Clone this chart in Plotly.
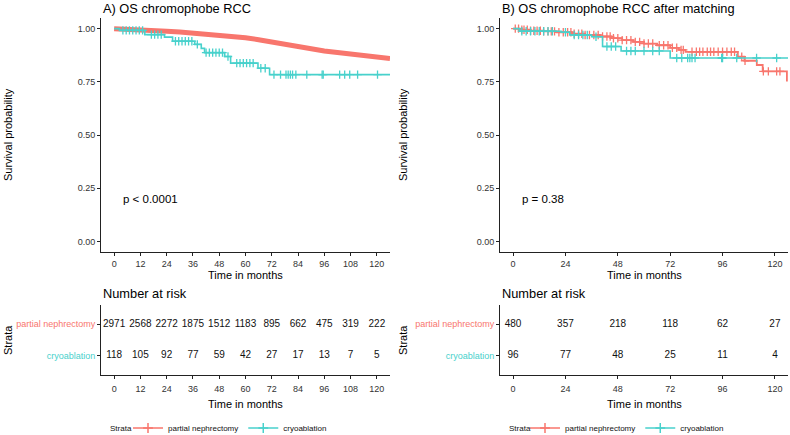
import numpy as np
import plotly.graph_objects as go

# ---- data ------------------------------------------------------------------
STRATA = ["partial nephrectomy", "cryoablation"]
RED = "#F8766D"
CYAN = "#48D1CC"

# panel A: survival curves
a_pn_t = [0, 6, 12, 18, 24, 30, 36, 42, 48, 54, 60, 66, 72, 78, 84, 90, 96,
          102, 108, 114, 120, 126]
a_pn_s = [1.0, .998, .996, .992, .988, .984, .979, .974, .968, .963, .957,
          .948, .937, .925, .915, .905, .895, .888, .881, .875, .868, .860]
a_cr_t = [0, 2.5, 14, 23, 26.7, 36.8, 39.8, 41.3, 50.5, 53.2, 65.7, 71, 126]
a_cr_s = [1.0, .992, .972, .96, .941, .926, .907, .887, .869, .838, .814,
          .784, .784]
a_cr_cens = [4, 5.5, 7, 8.5, 10, 11.5, 13, 17, 18.5, 20, 21.5, 28, 29.5, 31,
             32.5, 34, 35.5, 38, 42, 43.5, 45, 46.5, 48, 49.5, 52, 56, 57.5,
             59, 60.5, 62, 63.5, 67, 69, 73, 76, 78.5, 79.5, 80.5, 81.5, 83,
             88, 95, 95.5, 103, 105.3, 107.6, 111.2, 120.3]

# panel B: survival curves after matching
b_pn_t = [0, 3, 8, 14, 20, 27, 33, 40, 45, 50, 55, 60, 66, 72, 76, 79, 103,
          106, 111.7, 114.4, 125.5]
b_pn_s = [1.0, .995, .99, .987, .983, .976, .97, .963, .955, .946, .938, .930,
          .922, .910, .900, .891, .868, .849, .829, .799, .752]
b_pn_cens = [1, 2.5, 4, 5, 6.5, 8, 9.5, 11, 12.5, 14, 16, 17.5, 19, 21, 23,
             25, 26.5, 28, 30, 31.5, 33, 35, 37, 39, 41, 43, 44.5, 46, 48, 50,
             52, 54, 56, 58, 60, 62, 64, 67, 69, 71, 73, 75, 77, 78, 82, 84,
             85.5, 87, 89, 90.5, 92, 94, 96, 98, 100, 101.5, 104.8, 106.3,
             114.7, 117, 120.8, 122.3]
b_cr_t = [0, 3, 22, 26, 36, 41, 49.5, 72, 126]
b_cr_s = [1.0, .988, .983, .970, .962, .916, .895, .862, .862]
b_cr_cens = [4, 6, 8, 10, 12, 14, 16, 18, 24, 28, 30, 32, 34, 38, 43, 45, 47,
             52, 54, 56, 60, 64, 67, 75, 77.3, 80, 81, 82, 83.4, 95.6, 96,
             102.5, 111.6, 120.8]

# number at risk tables
months_a = [0, 12, 24, 36, 48, 60, 72, 84, 96, 108, 120]
risk_a_pn = [2971, 2568, 2272, 1875, 1512, 1183, 895, 662, 475, 319, 222]
risk_a_cr = [118, 105, 92, 77, 59, 42, 27, 17, 13, 7, 5]
months_b = [0, 24, 48, 72, 96, 120]
risk_b_pn = [480, 357, 218, 118, 62, 27]
risk_b_cr = [96, 77, 48, 25, 11, 4]

pvals = ["p < 0.0001", "p = 0.38"]
titles = ["A) OS chromophobe RCC", "B) OS chromophobe RCC after matching"]

# ---- layout geometry (pixels of the 790x435 page) ---------------------------
W, H = 790, 435
FONT = "Liberation Sans, Arial, sans-serif"


def px(x):
    return x / W


def py(y):
    return 1 - y / H


def surv_at(times, surv, t):
    idx = np.searchsorted(np.array(times), np.array(t), side="right") - 1
    return np.array(surv)[idx]


fig = go.Figure()

axis_common = dict(
    showline=True, linecolor="#222", linewidth=1, ticks="outside",
    ticklen=3, tickcolor="#222", tickwidth=1, showgrid=False, zeroline=False,
    automargin=False,
    tickfont=dict(size=9, color="#333", family=FONT),
)

panels = [
    dict(x0=101, x1=390, xa="x", ya="y", xt="x3", yt="y3", legend="legend",
         months=months_a, risk=(risk_a_pn, risk_a_cr), leg_x=136, strata_x=108),
    dict(x0=500, x1=788, xa="x2", ya="y2", xt="x4", yt="y4", legend="legend2",
         months=months_b, risk=(risk_b_pn, risk_b_cr), leg_x=533, strata_x=507),
]

# panel A curves
fig.add_trace(go.Scatter(x=a_pn_t, y=a_pn_s, mode="lines",
                         line=dict(color=RED, width=5), xaxis="x", yaxis="y",
                         showlegend=False, hoverinfo="skip"))
fig.add_trace(go.Scatter(x=a_cr_t, y=a_cr_s, mode="lines",
                         line=dict(color=CYAN, width=1.6, shape="hv"),
                         xaxis="x", yaxis="y", showlegend=False))
fig.add_trace(go.Scatter(x=a_cr_cens, y=surv_at(a_cr_t, a_cr_s, a_cr_cens),
                         mode="markers", xaxis="x", yaxis="y",
                         marker=dict(symbol="cross-thin", size=6,
                                     line=dict(color=CYAN, width=1.3)),
                         showlegend=False))

# panel B curves
fig.add_trace(go.Scatter(x=b_pn_t, y=b_pn_s, mode="lines",
                         line=dict(color=RED, width=1.8, shape="hv"),
                         xaxis="x2", yaxis="y2", showlegend=False))
fig.add_trace(go.Scatter(x=b_pn_cens, y=surv_at(b_pn_t, b_pn_s, b_pn_cens),
                         mode="markers", xaxis="x2", yaxis="y2",
                         marker=dict(symbol="cross-thin", size=6,
                                     line=dict(color=RED, width=1.3)),
                         showlegend=False))
fig.add_trace(go.Scatter(x=b_cr_t, y=b_cr_s, mode="lines",
                         line=dict(color=CYAN, width=1.6, shape="hv"),
                         xaxis="x2", yaxis="y2", showlegend=False))
fig.add_trace(go.Scatter(x=b_cr_cens, y=surv_at(b_cr_t, b_cr_s, b_cr_cens),
                         mode="markers", xaxis="x2", yaxis="y2",
                         marker=dict(symbol="cross-thin", size=6,
                                     line=dict(color=CYAN, width=1.3)),
                         showlegend=False))

annotations = []
for i, p in enumerate(panels):
    n = "" if i == 0 else "2"
    dom = [px(p["x0"]), px(p["x1"])]
    fig.update_layout(**{
        f"xaxis{n}": dict(axis_common, domain=dom, range=[-6, 126],
                          tickvals=p["months"], anchor=p["ya"]),
        f"yaxis{n}": dict(axis_common, domain=[py(252), py(18)],
                          range=[-0.05, 1.05],
                          tickvals=[0, .25, .5, .75, 1], tickformat=".2f",
                          anchor=p["xa"]),
    })
    tn = "3" if i == 0 else "4"
    fig.update_layout(**{
        f"xaxis{tn}": dict(axis_common, domain=dom, range=[-6, 126],
                           tickvals=p["months"], anchor=p["yt"],
                           ticklabelstandoff=2),
        f"yaxis{tn}": dict(axis_common, domain=[py(375), py(305)],
                           range=[0.4, 2.6], tickvals=[2, 1],
                           ticktext=[f"<span style='color:{RED}'>{STRATA[0]}</span>",
                                     f"<span style='color:{CYAN}'>{STRATA[1]}</span>"],
                           anchor=p["xt"]),
    })
    # number-at-risk text
    for row, vals in zip([2, 1], p["risk"]):
        fig.add_trace(go.Scatter(x=p["months"], y=[row] * len(vals),
                                 mode="text", text=[str(v) for v in vals],
                                 textfont=dict(size=10, color="#111", family=FONT),
                                 xaxis=p["xt"], yaxis=p["yt"],
                                 showlegend=False, hoverinfo="skip"))
    # legend entries
    for name, col in zip(STRATA, [RED, CYAN]):
        fig.add_trace(go.Scatter(x=[None], y=[None], mode="lines+markers",
                                 name=name, legend=p["legend"],
                                 line=dict(color=col, width=1.5),
                                 marker=dict(symbol="cross-thin", size=7,
                                             line=dict(color=col, width=1.5)),
                                 xaxis=p["xa"], yaxis=p["ya"]))
    cx = (p["x0"] + p["x1"]) / 2
    annotations += [
        dict(text=titles[i], x=px(p["x0"]), y=py(8), xanchor="left",
             yanchor="middle", font=dict(size=12.8, color="#000")),
        dict(text="Time in months", x=px(cx), y=py(275), xanchor="center",
             yanchor="middle", font=dict(size=11, color="#000")),
        dict(text="Time in months", x=px(cx), y=py(404), xanchor="center",
             yanchor="middle", font=dict(size=11, color="#000")),
        dict(text="Number at risk", x=px(p["x0"]), y=py(293), xanchor="left",
             yanchor="middle", font=dict(size=12.8, color="#000")),
        dict(text=pvals[i], x=3.2, y=0.2, xref=p["xa"], yref=p["ya"],
             xanchor="left", yanchor="middle",
             font=dict(size=11.5, color="#000")),
        dict(text="Strata", x=px(p["strata_x"]), y=py(428), xanchor="left",
             yanchor="middle", font=dict(size=8, color="#111")),
    ]
    tx = 8 if i == 0 else 403
    annotations += [
        dict(text="Survival probability", x=px(tx), y=py(135), textangle=-90,
             xanchor="center", yanchor="middle", font=dict(size=11, color="#000")),
        dict(text="Strata", x=px(tx), y=py(340), textangle=-90,
             xanchor="center", yanchor="middle", font=dict(size=11, color="#000")),
    ]

for a in annotations:
    a.setdefault("xref", "paper")
    a.setdefault("yref", "paper")
    a["showarrow"] = False

legend_common = dict(orientation="h", yanchor="middle", xanchor="left",
                     y=py(428), font=dict(size=8, color="#111", family=FONT),
                     itemwidth=30, bgcolor="rgba(0,0,0,0)", tracegroupgap=0,
                     borderwidth=0)

fig.update_layout(
    width=W, height=H,
    margin=dict(l=0, r=0, t=0, b=0, autoexpand=False),
    paper_bgcolor="white", plot_bgcolor="white",
    font=dict(family=FONT, color="#000"),
    annotations=annotations,
    legend=dict(legend_common, x=px(panels[0]["leg_x"] - 8)),
    legend2=dict(legend_common, x=px(panels[1]["leg_x"] - 8)),
)

# the default page has an 8px body margin; drop it so the figure fills the window
fig.write_html("out.html", config={"displayModeBar": False},
               post_script="document.body.style.margin='0px';")
